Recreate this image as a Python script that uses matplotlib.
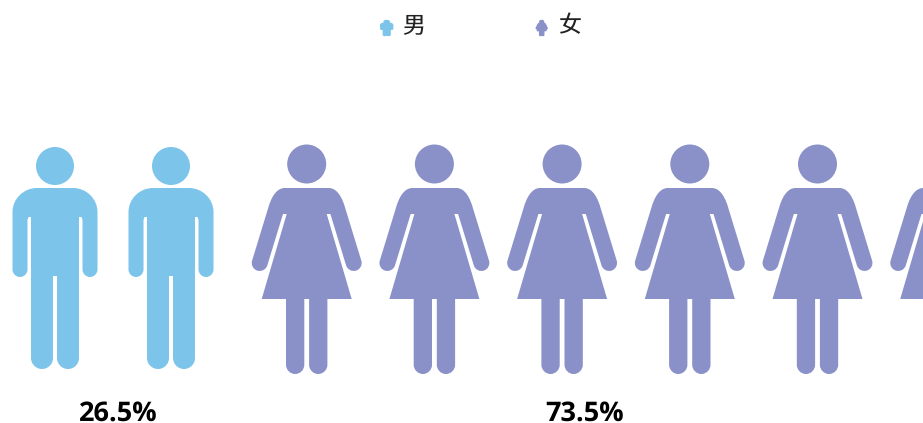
"""Gender split pictogram: one row of icons with a legend above."""
import matplotlib
matplotlib.use("Agg")
import matplotlib.pyplot as plt
from matplotlib.patches import Ellipse, PathPatch
from matplotlib.path import Path

plt.rcParams["text.hinting"] = "no_hinting"

categories = ["男", "女"]
shares = [26.5, 73.5]
icon_counts = [2, 6]
colors = ["#7DC4EB", "#8991C8"]

M, L, C = Path.MOVETO, Path.LINETO, Path.CURVE4

# left half of each icon, dx/dy in px from the shoulder line
man_half = [
    (M, 0.5, 0), (L, -18, 0), (C, -31.3, 0), (C, -42.5, 10.7), (C, -42.5, 24),
    (L, -42.5, 81.5), (C, -42.5, 85.6), (C, -39.1, 89), (C, -35, 89),
    (C, -30.9, 89), (C, -27.5, 85.6), (C, -27.5, 81.5), (L, -27.5, 32),
    (L, -26.5, 29), (L, -24, 29), (L, -24, 170), (C, -24, 176), (C, -19, 181),
    (C, -13, 181), (C, -7, 181), (C, -2, 176), (C, -2, 170), (L, -2, 88), (L, 0.5, 88),
]
woman_half = [
    (M, 0.5, 0), (L, -22, 0), (C, -31, 0), (C, -36, 11), (C, -38.5, 20),
    (L, -54.6, 72.6), (C, -55.9, 76.8), (C, -53.6, 81.3), (C, -49.4, 82.6),
    (C, -45.2, 83.9), (C, -40.7, 81.6), (C, -39.4, 77.4), (L, -23.7, 26),
    (L, -20, 26), (L, -45, 111), (L, -20.7, 111), (L, -20.7, 176.8),
    (C, -20.7, 181.8), (C, -16.6, 186), (C, -11.5, 186), (C, -6.5, 186),
    (C, -2.4, 181.8), (C, -2.4, 176.8), (L, -2.4, 111), (L, 0.5, 111),
]
halves = [man_half, woman_half]
head_dy = [-22, -24]
head_r = [19, 19.5]
icon_h = [222, 229]


def draw_icon(ax, kind, cx, top, color, sx=1.0, sy=1.0, lw=0.0):
    """top is the shoulder line; sx/sy squash the icon for the legend."""
    edge = color if lw else "none"
    for side in (1, -1):
        verts = [(cx + side * sx * x, top + sy * y) for _, x, y in halves[kind]]
        codes = [c for c, _, _ in halves[kind]]
        verts.append(verts[0])
        codes.append(Path.CLOSEPOLY)
        ax.add_patch(PathPatch(Path(verts, codes), facecolor=color, edgecolor=edge, linewidth=lw))
    ax.add_patch(Ellipse((cx, top + sy * head_dy[kind]), 2 * head_r[kind] * sx,
                         2 * head_r[kind] * sy, facecolor=color, edgecolor=edge, linewidth=lw))


fig = plt.figure(figsize=(9.23, 4.23), dpi=100)
ax = fig.add_axes([0, 0, 1, 1])
ax.set_xlim(0, 923)
ax.set_ylim(423, 0)
ax.axis("off")

# icons
first_x = [55, 306.7]
step_x = [116, 127.7]
shoulder_y = 188
for kind, n in enumerate(icon_counts):
    for i in range(n):
        draw_icon(ax, kind, first_x[kind] + i * step_x[kind], shoulder_y, colors[kind])

# share labels
label_x = [118, 585]
for x, share in zip(label_x, shares):
    ax.text(x, 421, f"{share:.1f}%", ha="center", va="baseline", fontsize=19.5,
            fontweight="bold", family="Open Sans", color="black")

# legend, icons are squashed and blobby in the original
legend_x = [386.7, 541.7]
legend_sx = [0.14, 0.10]
legend_text_x = [414, 569]
for kind, name in enumerate(categories):
    sy = 15 / icon_h[kind]
    top = 20.5 - (head_dy[kind] - head_r[kind]) * sy
    draw_icon(ax, kind, legend_x[kind], top, colors[kind], legend_sx[kind], sy, lw=1.0)
    ax.text(legend_text_x[kind], 26, name, ha="center", va="center", fontsize=16.5,
            family=["Noto Sans CJK SC", "DejaVu Sans"], color="#222222")

fig.savefig("out.png", dpi=100)
